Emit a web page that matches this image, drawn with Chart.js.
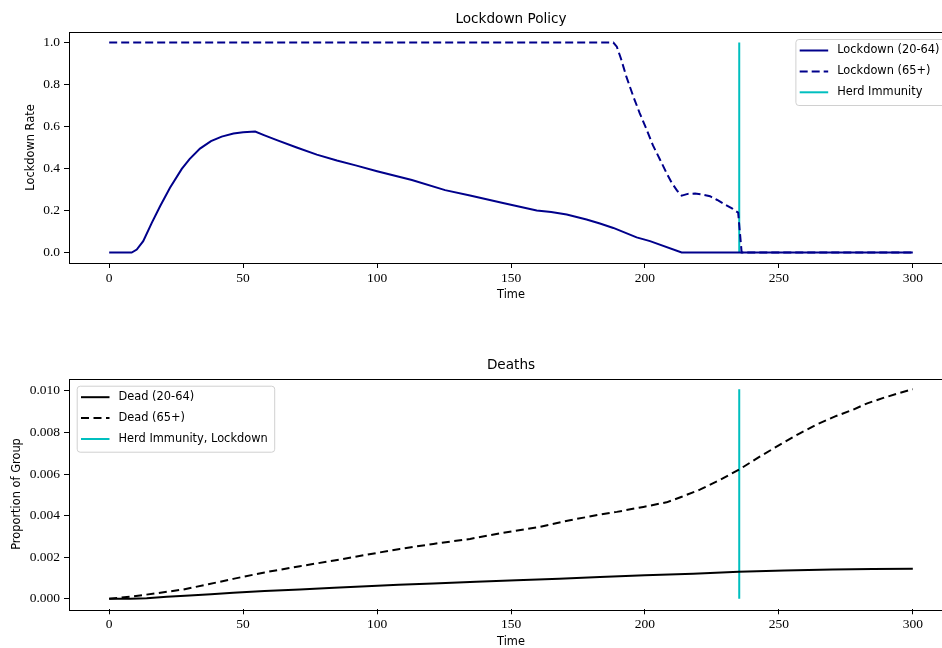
<!DOCTYPE html>
<html>
<head>
<meta charset="utf-8">
<script src="https://cdn.jsdelivr.net/npm/chart.js@4.4.0/dist/chart.umd.min.js"></script>
<style>
  html, body { margin: 0; padding: 0; background: #fff; overflow: hidden; width: 942px; height: 648px; }
  canvas { position: absolute; left: 0; }
  #lockChart { top: 0; }
  #deathChart { top: 324px; }
</style>
</head>
<body>
<canvas id="lockChart" width="960" height="324"></canvas>
<canvas id="deathChart" width="960" height="340"></canvas>
<script>
// ticks
const xTicks = [0, 50, 100, 150, 200, 250, 300];
const lockTicks = [0, 0.2, 0.4, 0.6, 0.8, 1.0];
const deathTicks = [0, 0.002, 0.004, 0.006, 0.008, 0.010];

// lockdown policy
const youngLockT = [0, 8.4, 10.3, 12.7, 15.9, 19, 22.7, 27.1, 30, 33.9, 38, 42, 46.4, 50, 54.5, 58, 62.6, 70, 77.5, 85, 92, 100, 113, 125.4, 134.7, 147, 159.6, 165, 170.8, 178.2, 183.2, 188.2, 196.9, 201.9, 213.7, 300];
const youngLock  = [0, 0, 0.014, 0.054, 0.141, 0.22, 0.308, 0.398, 0.445, 0.495, 0.53, 0.552, 0.567, 0.573, 0.576, 0.558, 0.535, 0.5, 0.466, 0.438, 0.415, 0.387, 0.345, 0.297, 0.271, 0.236, 0.2, 0.193, 0.181, 0.157, 0.138, 0.117, 0.072, 0.054, 0, 0];
const oldLockT = [0, 188.2, 189.5, 191, 193, 195.6, 198, 200.6, 203, 205.6, 208, 210, 212, 213.7, 216, 218.7, 221, 224.3, 227, 230, 232.5, 234.8, 236.1, 300];
const oldLock  = [1, 1, 0.98, 0.925, 0.84, 0.745, 0.665, 0.586, 0.51, 0.443, 0.38, 0.332, 0.295, 0.271, 0.279, 0.281, 0.277, 0.268, 0.25, 0.228, 0.21, 0.19, 0, 0];
const herdDay = 235.2;
const herdLockY = [0, 1];

// deaths
const deadYoungT = [0, 7.8, 14, 21.5, 30, 38, 46.3, 58, 71.2, 84, 96.1, 108, 121, 137, 152, 168, 183.2, 200, 218, 235, 252, 270, 285, 300];
const deadYoung  = [0, 0, 0.00003, 0.0001, 0.00016, 0.00022, 0.00029, 0.00037, 0.00045, 0.00053, 0.00061, 0.00068, 0.00074, 0.00082, 0.00089, 0.00097, 0.00105, 0.00113, 0.00121, 0.0013, 0.00136, 0.00141, 0.00143, 0.00144];
const deadOldT = [0, 9, 18, 27.7, 37, 46.3, 58, 71.2, 84, 96.1, 108.5, 121, 134.7, 145.9, 159.6, 172, 183.2, 189.5, 199.4, 208.1, 214, 220.5, 228, 235.2, 243, 251.6, 258, 264.1, 271, 277.8, 283, 289, 295, 300];
const deadOld  = [0, 0.00012, 0.00027, 0.00045, 0.0007, 0.00096, 0.00127, 0.00157, 0.00184, 0.00212, 0.0024, 0.00264, 0.00288, 0.00315, 0.00343, 0.00378, 0.00405, 0.00418, 0.00442, 0.00464, 0.00492, 0.00525, 0.00572, 0.00622, 0.00685, 0.0075, 0.00797, 0.00838, 0.00877, 0.0091, 0.0094, 0.00966, 0.0099, 0.01008];
const herdDeadY = [0, 0.01008];

const NAVY = '#00008B';
const CYAN = '#00BFBF';
const SANS = '"DejaVu Sans", sans-serif';
const SERIF = '"Liberation Serif", serif';

function pts(ts, ys) {
  return ts.map((t, i) => ({ x: t, y: ys[i] }));
}

// full axes frame like matplotlib spines
const frame = {
  id: 'frame',
  afterDatasetsDraw(chart) {
    const { ctx, chartArea: a } = chart;
    ctx.save();
    ctx.strokeStyle = '#000';
    ctx.lineWidth = 1;
    ctx.strokeRect(Math.round(a.left) + 0.5, Math.round(a.top) + 0.5, Math.round(a.right - a.left), Math.round(a.bottom - a.top));
    ctx.restore();
  }
};

// title centred over the axes, not the canvas
const axesTitle = {
  id: 'axesTitle',
  afterDraw(chart, args, opts) {
    const { ctx, chartArea: a } = chart;
    ctx.save();
    ctx.font = '13.6px ' + SANS;
    ctx.fillStyle = '#000';
    ctx.textAlign = 'center';
    ctx.textBaseline = 'middle';
    ctx.fillText(opts.text, (a.left + a.right) / 2, opts.y);
    ctx.restore();
  }
};

// legend drawn inside the axes
const boxLegend = {
  id: 'boxLegend',
  afterDraw(chart, args, opts) {
    const { ctx, chartArea: a } = chart;
    const sets = chart.data.datasets;
    ctx.save();
    ctx.font = '11.4px ' + SANS;
    const textW = Math.max(...sets.map(d => ctx.measureText(d.label).width));
    const w = 4.3 + 28.5 + 9 + textW + 6.5;
    const h = 66;
    const x = opts.side === 'right' ? a.right - 7 - w : a.left + 7.7;
    const y = a.top + 7;
    ctx.globalAlpha = 0.8;
    ctx.fillStyle = '#fff';
    ctx.beginPath();
    ctx.roundRect(x + 0.5, y + 0.5, w, h, 3);
    ctx.fill();
    ctx.globalAlpha = 1;
    ctx.strokeStyle = '#d0d0d0';
    ctx.lineWidth = 1;
    ctx.stroke();
    sets.forEach((d, i) => {
      const cy = y + 11.5 + i * 20.9;
      ctx.strokeStyle = d.borderColor;
      ctx.lineWidth = d.borderWidth;
      ctx.setLineDash(d.borderDash || []);
      ctx.beginPath();
      ctx.moveTo(x + 4.3, cy);
      ctx.lineTo(x + 32.8, cy);
      ctx.stroke();
      ctx.setLineDash([]);
      ctx.fillStyle = '#000';
      ctx.textBaseline = 'middle';
      ctx.fillText(d.label, x + 41.8, cy);
    });
    ctx.restore();
  }
};

function makeOptions(cfg) {
  return {
    responsive: false,
    animation: false,
    layout: { padding: { left: 0, right: 7, top: cfg.top, bottom: 0 } },
    elements: { point: { radius: 0 }, line: { tension: 0 } },
    plugins: {
      legend: { display: false },
      tooltip: { enabled: false },
      title: { display: false },
      axesTitle: { text: cfg.title, y: cfg.titleY },
      boxLegend: { side: cfg.legendSide }
    },
    scales: {
      x: {
        type: 'linear',
        min: -15,
        max: 315,
        afterBuildTicks: s => { s.ticks = xTicks.map(v => ({ value: v })); },
        afterFit: s => { s.height = cfg.xHeight; },
        grid: { drawOnChartArea: false, drawTicks: true, tickLength: 5, color: '#000' },
        border: { display: false },
        ticks: { color: '#000', padding: 2.5, maxRotation: 0, font: { family: SERIF, size: 13.5 }, callback: v => String(v) },
        title: { display: true, text: 'Time', color: '#000', font: { family: SANS, size: 11.4 }, padding: { top: 0, bottom: cfg.xTitlePad } }
      },
      y: {
        min: cfg.yMin,
        max: cfg.yMax,
        afterBuildTicks: s => { s.ticks = cfg.yTicks.map(v => ({ value: v })); },
        afterFit: s => { s.width = 69; },
        grid: { drawOnChartArea: false, drawTicks: true, tickLength: 5, color: '#000' },
        border: { display: false },
        ticks: { color: '#000', padding: 4, font: { family: SERIF, size: 13.5 }, callback: v => v.toFixed(cfg.yDigits) },
        title: { display: true, text: cfg.yLabel, color: '#000', font: { family: SANS, size: 11.4 }, padding: { top: cfg.yTitlePad, bottom: 0 } }
      }
    }
  };
}

new Chart(document.getElementById('lockChart'), {
  type: 'line',
  data: {
    datasets: [
      { label: 'Lockdown (20-64)', data: pts(youngLockT, youngLock), borderColor: NAVY, borderWidth: 2 },
      { label: 'Lockdown (65+)', data: pts(oldLockT, oldLock), borderColor: NAVY, borderWidth: 2, borderDash: [8, 4] },
      { label: 'Herd Immunity', data: pts([herdDay, herdDay], herdLockY), borderColor: CYAN, borderWidth: 2 }
    ]
  },
  options: makeOptions({
    title: 'Lockdown Policy',
    titleY: 19,
    top: 32,
    legendSide: 'right',
    xHeight: 61,
    xTitlePad: 22.2,
    yMin: -0.05, yMax: 1.05, yTicks: lockTicks, yDigits: 1,
    yLabel: 'Lockdown Rate',
    yTitlePad: 24.2
  }),
  plugins: [frame, axesTitle, boxLegend]
});

new Chart(document.getElementById('deathChart'), {
  type: 'line',
  data: {
    datasets: [
      { label: 'Dead (20-64)', data: pts(deadYoungT, deadYoung), borderColor: '#000', borderWidth: 2 },
      { label: 'Dead (65+)', data: pts(deadOldT, deadOld), borderColor: '#000', borderWidth: 2, borderDash: [8, 4.5] },
      { label: 'Herd Immunity, Lockdown', data: pts([herdDay, herdDay], herdDeadY), borderColor: CYAN, borderWidth: 2 }
    ]
  },
  options: makeOptions({
    title: 'Deaths',
    titleY: 41.7,
    top: 54.7,
    legendSide: 'left',
    xHeight: 54.7,
    xTitlePad: 15.5,
    yMin: -0.000504, yMax: 0.010584, yTicks: deathTicks, yDigits: 3,
    yLabel: 'Proportion of Group',
    yTitlePad: 10.2
  }),
  plugins: [frame, axesTitle, boxLegend]
});
</script>
</body>
</html>
